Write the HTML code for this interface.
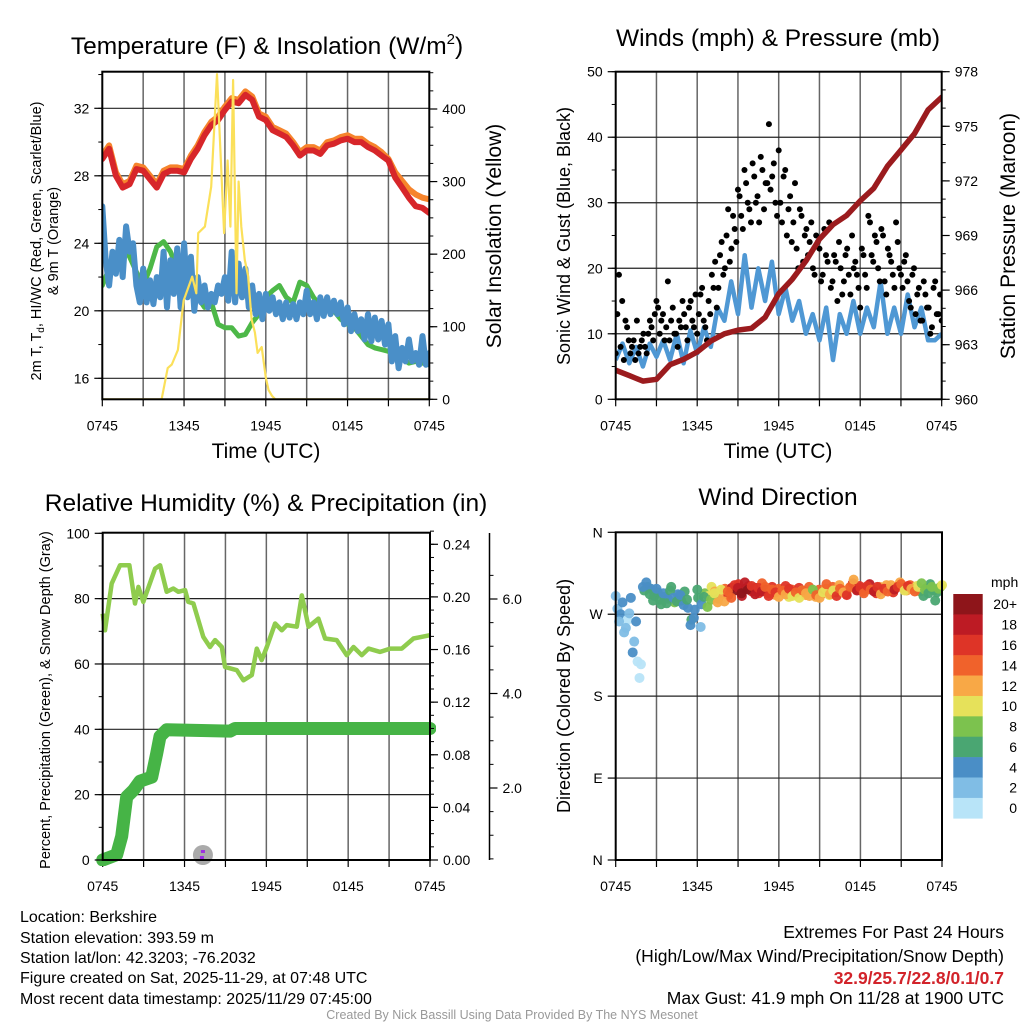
<!DOCTYPE html>
<html><head><meta charset="utf-8">
<style>
html,body{margin:0;padding:0;background:#fff;}
svg{display:block;font-family:"Liberation Sans",Arial,sans-serif;}
</style></head>
<body>
<svg id="chart" width="1024" height="1024" viewBox="0 0 1024 1024" xmlns="http://www.w3.org/2000/svg">
<rect x="0" y="0" width="1024" height="1024" fill="#fff"/>
<defs>
<clipPath id="c1"><rect x="102.3" y="71.7" width="327" height="327.6"/></clipPath>
<clipPath id="c2"><rect x="615.7" y="71.7" width="326" height="327.6"/></clipPath>
<clipPath id="c3"><rect x="96" y="526" width="340" height="340"/></clipPath>
<clipPath id="c4"><rect x="610" y="526" width="338" height="340"/></clipPath>
</defs>
<g id="layer"></g>
<text x="267" y="54" font-size="24.5" text-anchor="middle">Temperature (F) &amp; Insolation (W/m<tspan font-size="15" dy="-10">2</tspan><tspan dy="10">)</tspan></text>
<text x="778" y="46" font-size="24.5" text-anchor="middle">Winds (mph) &amp; Pressure (mb)</text>
<text x="266" y="511" font-size="24.5" text-anchor="middle">Relative Humidity (%) &amp; Precipitation (in)</text>
<text x="778" y="505" font-size="24.5" text-anchor="middle">Wind Direction</text>
<text x="266" y="458" font-size="21" text-anchor="middle">Time (UTC)</text>
<text x="778" y="458" font-size="21" text-anchor="middle">Time (UTC)</text>
<text transform="translate(41,241) rotate(-90)" font-size="14.5" text-anchor="middle">2m T, T<tspan font-size="10" dy="3">d</tspan><tspan dy="-3">, HI/WC (Red, Green, Scarlet/Blue)</tspan></text>
<text transform="translate(58,241) rotate(-90)" font-size="14.5" text-anchor="middle">&amp; 9m T (Orange)</text>
<text transform="translate(501,236) rotate(-90)" font-size="21" text-anchor="middle">Solar Insolation (Yellow)</text>
<text transform="translate(570,236) rotate(-90)" font-size="18" text-anchor="middle">Sonic Wind &amp; Gust (Blue, Black)</text>
<text transform="translate(1015,236) rotate(-90)" font-size="21" text-anchor="middle">Station Pressure (Maroon)</text>
<text transform="translate(50,700) rotate(-90)" font-size="14.5" text-anchor="middle">Percent, Precipitation (Green), &amp; Snow Depth (Gray)</text>
<text transform="translate(570,696) rotate(-90)" font-size="18" text-anchor="middle">Direction (Colored By Speed)</text>
<g font-size="16">
<text x="20" y="922">Location: Berkshire</text>
<text x="20" y="943">Station elevation: 393.59 m</text>
<text x="20" y="963">Station lat/lon: 42.3203; -76.2032</text>
<text x="20" y="983">Figure created on Sat, 2025-11-29, at 07:48 UTC</text>
<text x="20" y="1004">Most recent data timestamp: 2025/11/29 07:45:00</text>
</g>
<g font-size="17.5" text-anchor="end">
<text x="1004" y="938">Extremes For Past 24 Hours</text>
<text x="1004" y="962">(High/Low/Max Wind/Precipitation/Snow Depth)</text>
<text x="1004" y="984" fill="#d2232a" font-weight="bold">32.9/25.7/22.8/0.1/0.7</text>
<text x="1004" y="1004">Max Gust: 41.9 mph On 11/28 at 1900 UTC</text>
</g>
<text x="512" y="1019" font-size="12.5" fill="#999" text-anchor="middle">Created By Nick Bassill Using Data Provided By The NYS Mesonet</text>
</svg>
<script>
// ---------- data ----------
const timeTickLabels = ["0745","1345","1945","0145","0745"];
const timeTickHours = [0,6,12,18,24];
const tempTicks = [16,20,24,28,32];
const solarTicks = [0,100,200,300,400];
const windTicks = [0,10,20,30,40,50];
const pressTicks = [960,963,966,969,972,975,978];
const rhTicks = [0,20,40,60,80,100];
const precipTicks = [0.00,0.04,0.08,0.12,0.16,0.20,0.24];
const snowTicks = [2.0,4.0,6.0];
const dirTickLabels = ["N","E","S","W","N"];
const dirTickDegs = [0,90,180,270,360];

const temp2m = [29.0,29.6,28.0,27.3,27.5,28.4,28.3,27.8,27.3,28.1,28.3,28.3,28.2,29.0,29.6,30.4,31.0,31.3,31.9,32.4,32.3,32.8,32.5,31.5,31.3,30.7,30.5,30.3,29.8,29.2,29.5,29.5,29.3,29.8,29.9,30.1,30.2,30.0,30.0,29.7,29.5,29.2,28.9,27.9,27.3,26.7,26.2,26.1,25.8];
const temp9m = [29.2,29.8,28.2,27.5,27.7,28.6,28.5,28.0,27.5,28.3,28.5,28.5,28.4,29.2,29.8,30.6,31.2,31.5,32.1,32.6,32.5,33.0,32.7,31.7,31.5,30.9,30.7,30.5,30.0,29.4,29.7,29.7,29.5,30.0,30.1,30.3,30.4,30.2,30.2,29.9,29.7,29.4,29.0,28.2,27.7,27.2,26.9,26.7,26.6];
const dewpoint = [21.5,22.5,23.0,23.8,23.2,22.3,21.5,22.5,23.8,24.1,23.5,22.5,22.8,21.5,20.8,20.2,20.5,19.2,19.0,19.0,18.5,18.6,19.3,19.8,20.8,21.2,21.5,20.8,20.5,21.7,21.5,20.8,20.3,20.2,20.0,19.5,19.2,19.0,18.5,18.0,17.8,17.7,17.6,17.3,17.2,16.9,17.0,16.9,16.8];
const windChill = [26.2,23.0,21.5,23.5,22.2,24.2,22.0,25.0,23.5,24.0,21.5,20.5,22.5,20.5,21.8,20.4,22.0,20.8,23.5,20.2,23.0,21.0,23.7,20.2,24.0,20.8,23.2,20.0,22.0,20.5,21.5,20.2,21.0,20.5,21.5,21.0,22.0,20.6,23.5,20.5,22.8,20.8,22.5,20.2,21.5,19.8,21.0,19.5,21.0,20.0,20.8,19.8,20.5,19.5,20.5,19.6,20.4,19.5,20.5,19.8,21.2,19.8,20.5,19.5,20.8,19.7,20.8,19.8,20.6,19.8,20.5,19.2,20.2,18.8,19.8,18.8,19.5,18.3,19.8,18.2,19.6,18.3,19.4,18.0,19.2,17.0,18.5,16.6,17.8,17.0,18.3,17.0,17.5,16.8,18.5,16.8,17.5];
const solarHours = [0,4.35,4.8,5.1,5.55,5.97,6.6,6.9,7.04,7.53,7.99,8.42,8.94,9.2,9.4,9.6,9.85,10.0,10.2,10.46,10.7,10.96,11.2,11.4,11.7,12.0,12.2,12.45,12.7,12.96,13.3,13.5,13.75,14.13,24];
const solarVals = [0,0,43,48,68,136,169,146,229,238,293,448,229,329,238,440,146,300,238,192,170,110,92,64,72,30,13,5,0,0,0,0,0,0,0];

const windSpeed = [6,8.5,5.5,8,5,8.5,6.5,9,6,10,5.5,10.5,7,11,8,14,12,18,13,22,14,20,15,21,13,17,12,15,10,13,9,14,6,13,10,15,10,14,11,18,10,14,10,16,11,14,9,9,10];
const windGust = [7,19,15,12,9,8,6,7,9,8,10,11,13,14,12,9,18,12,10,8,11,13,9,15,11,10,16,12,9,13,17,14,22,19,25,21,28,24,31,26,33,29,36,30,27,35,33,42,34,30,38,27,35,29,24,33,20,28,25,22,27,19,24,18,26,21,17,22,15,20,18,23,16,20,19,14,22,17,27,21,24,18,25,16,22,19,27,20,17,22,15,19,13,17,12,16,14,11,18,13,12];
const windGust2 = [13,8,6,11,7,9,12,8,10,7,12,9,15,10,13,11,9,14,10,12,15,11,14,12,16,13,17,11,15,19,21,17,24,20,29,23,26,32,28,35,30,27,34,31,37,29,33,32,36,28,30,34,25,31,27,23,29,21,26,24,20,25,23,19,22,27,18,21,24,16,22,19,25,21,17,23,19,28,22,25,20,26,18,23,21,17,24,19,21,18,14,20,16,12,18,14,10,17,13,16];
const pressure = [961.6,961.3,961.0,961.1,961.9,962.2,962.6,963.2,963.6,963.8,963.9,964.5,965.8,966.6,967.6,968.8,969.6,970.1,970.9,971.6,972.8,973.7,974.6,975.9,976.6];

const rhHours = [0,0.17,0.66,1.27,1.96,2.37,2.62,2.98,3.84,4.21,4.69,5.18,5.55,6.04,6.28,6.65,7.38,7.87,8.24,8.73,8.97,9.83,10.32,10.93,11.30,11.66,12.03,12.64,13.13,13.50,14.23,14.60,15.09,15.82,16.31,17.16,17.90,18.39,19.00,19.49,20.34,21.08,21.93,22.79,24.0];
const rhVals = [75.4,70.3,84.6,90.2,90.2,78.5,83.6,79.0,89.2,90.2,82.1,83.1,82.1,82.6,79.0,78.5,68.3,65.2,67.3,65.2,59.1,58.1,55.0,56.6,64.7,61.2,65.2,72.4,70.3,71.9,71.4,81.0,71.4,73.9,67.8,67.3,62.7,65.2,62.7,64.7,63.7,64.7,64.7,67.8,68.8];
const precipHours = [0,0.5,1.03,1.39,1.76,2.25,2.74,3.59,3.96,4.2,4.69,9.34,9.7,24];
const precipVals = [0,0.002,0.004,0.018,0.048,0.053,0.060,0.063,0.081,0.094,0.099,0.098,0.100,0.100];
const snowHours = [7.35];
const snowVals = [0.7];

const dirDeg = [290,262,283,255,271,228,262,200,300,305,292,285,298,286,293,282,296,288,284,291,280,286,258,266,297,256,289,278,286,293,283,297,284,295,288,302,299,293,305,297,301,292,299,295,300,290,297,294,289,296,292,298,290,294,288,296,293,290,297,291,288,294,303,292,296,290,298,294,291,300,308,296,299,293,301,297,295,300,292,298,295,302,297,300,303,296,301,298,295,300,304,297,293,300,285,298,302];
const dirSpd = [3,2,5,3,2,4,5,1,4,5,7,6,5,7,4,6,7,5,6,4,5,7,4,5,6,3,7,8,9,11,12,10,13,15,14,17,19,21,18,20,17,19,16,18,15,17,14,16,13,15,12,16,10,14,11,15,12,13,9,14,12,11,15,13,10,16,14,12,17,15,13,18,16,14,17,15,19,16,13,17,15,12,18,16,14,11,17,13,15,10,8,9,7,8,6,9,10];
const dirDeg2 = [276,270,250,264,288,240,218,215,296,300,298,290,294,281,289,287,300,283,292,285,295,277,264,275,288,281,293,290,300,295,287,292,298,291,299,296,303,290,298,301,295,299,293,304,297,293,300,291,298,295,301,289,297,293,299,296,291,300,295,289,297,293,298,291,300,294,302,296,292,299,304,297,301,295,299,303,297,293,300,296,302,298,294,300,305,299,296,302,298,301,295,290,299,303,296,294,300];
const dirSpd2 = [2,4,3,1,5,2,1,1,6,7,5,4,6,7,5,4,6,8,5,6,7,4,6,5,7,5,8,10,11,12,9,13,14,16,18,20,17,19,21,18,16,20,17,15,19,14,16,12,15,13,17,11,14,12,16,10,13,15,11,12,14,16,13,11,15,17,12,14,16,13,18,15,17,14,16,18,15,17,13,16,12,14,17,15,13,16,12,14,9,11,8,7,9,6,8,7,8];

const speedBins = ["0","2","4","6","8","10","12","14","16","18","20+"];
const speedColors = ["#b8e4f8","#80bde5","#4a8ec6","#4aa672","#7cc24e","#e6e15a","#f8a846","#f0622b","#de3427","#bd1b24","#8e151a"];

// ---------- helpers ----------
const NS = "http://www.w3.org/2000/svg";
const layer = document.getElementById("layer");
function lin(d0,d1,r0,r1){return v => r0 + (v-d0)*(r1-r0)/(d1-d0);}
function mk(tag, attrs, parent){const e=document.createElementNS(NS,tag);for(const k in attrs)e.setAttribute(k,attrs[k]);(parent||layer).appendChild(e);return e;}
function hoursOf(arr){return arr.map((_,i)=>i*24/(arr.length-1));}
function midHoursOf(arr){return arr.map((_,i)=>(i+0.5)*24/arr.length);}
function pathD(hs, vs, xs, ys){return hs.map((h,i)=>(i?"L":"M")+xs(h).toFixed(1)+","+ys(vs[i]).toFixed(1)).join("");}

const P = [
 {x0:102.3,x1:429.3,y0:71.7,y1:399.3,clip:"c1"},
 {x0:615.7,x1:941.7,y0:71.7,y1:399.3,clip:"c2"},
 {x0:102.7,x1:430,y0:532.7,y1:860,clip:"c3"},
 {x0:615.7,x1:942,y0:532.3,y1:860,clip:"c4"}
];

function frameAndGrid(p, hLines, name){
  const g = mk("g",{});
  
  
  const xs = lin(0,24,p.x0,p.x1);
  for(let h=3; h<24; h+=3){
    const l = mk("line",{x1:xs(h),x2:xs(h),y1:p.y0,y2:p.y1,stroke:"#666","stroke-width":1.5},g);
    
    
  }
  hLines.forEach(y=>{
    const l = mk("line",{x1:p.x0,x2:p.x1,y1:y,y2:y,stroke:"#222","stroke-width":1.2},g);
    
    
  });
  timeTickHours.forEach((h,i)=>{
    const t = mk("text",{x:xs(h),y:p.y1+31,"font-size":14,"text-anchor":"middle"},g);
    t.textContent = timeTickLabels[i];
    
    
  });
  for(let h=0; h<=24; h+=3){
    mk("line",{x1:xs(h),x2:xs(h),y1:p.y1,y2:p.y1+7,stroke:"#000","stroke-width":1.2},g);
  }
  return xs;
}
function frame(p,name){
  const r = mk("rect",{x:p.x0,y:p.y0,width:p.x1-p.x0,height:p.y1-p.y0,fill:"none",stroke:"#000","stroke-width":2});
  
  
}
function yAxis(ticks, labels, scale, x, side, minorStep, lo, hi, name, fmt){
  const g = mk("g",{});
  
  
  const d = side==="left" ? -1 : 1;
  ticks.forEach((v,i)=>{
    const y = scale(v);
    mk("line",{x1:x,x2:x+d*8,y1:y,y2:y,stroke:"#000","stroke-width":1.2},g);
    const t = mk("text",{x:x+d*13,y:y+5,"font-size":14,"text-anchor":side==="left"?"end":"start"},g);
    t.textContent = labels ? labels[i] : (fmt?fmt(v):v);
    
    
  });
  if(minorStep){
    for(let v=lo; v<=hi+1e-9; v+=minorStep){
      const y=scale(v);
      mk("line",{x1:x,x2:x+d*4,y1:y,y2:y,stroke:"#000","stroke-width":1},g);
    }
  }
}

// ---------- Panel 1: temperature ----------
(function(){
  const p=P[0];
  const ty = lin(16,32,378.3,108.3), sy = lin(0,400,399.3,109);
  const xs = frameAndGrid(p, tempTicks.map(ty), "temperature");
  const g = mk("g",{"clip-path":"url(#c1)"});
  
  
  const series = [
    [dewpoint,"#4db848",5,"dewpoint-line"],
    [windChill,"#4a8fc8",6,"wind-chill-line"],
    [temp9m,"#f6842c",6,"temp-9m-line"],
    [temp2m,"#d7262a",6,"temp-2m-line"]
  ];
  series.forEach(s=>{
    const e = mk("path",{d:pathD(hoursOf(s[0]),s[0],xs,ty),fill:"none",stroke:s[1],"stroke-width":s[2],"stroke-linejoin":"round","stroke-linecap":"round"},g);
    
    
  });
  const sol = mk("path",{d:pathD(solarHours,solarVals,xs,sy),fill:"none",stroke:"#fbe05a","stroke-width":2.2,"stroke-linejoin":"round"},g);
  
  
  frame(p,"temperature");
  yAxis(tempTicks,null,ty,p.x0,"left",2,16,34,"temperature-y-axis");
  yAxis(solarTicks,null,sy,p.x1,"right",25,0,450,"solar-y-axis");
})();

// ---------- Panel 2: winds ----------
(function(){
  const p=P[1];
  const wy = lin(0,50,399.3,71.7), py = lin(960,978,399.3,71.7);
  const xs = frameAndGrid(p, windTicks.slice(1,5).map(wy), "winds");
  const g = mk("g",{"clip-path":"url(#c2)"});
  
  
  const ws = mk("path",{d:pathD(hoursOf(windSpeed),windSpeed,xs,wy),fill:"none",stroke:"#4f98d4","stroke-width":4.5,"stroke-linejoin":"round"},g);
  
  
  const gh = hoursOf(windGust);
  windGust.forEach((v,i)=>{
    const c = mk("circle",{cx:xs(gh[i]),cy:wy(v),r:3,fill:"#000"},g);
    
    
  });
  const gh2 = midHoursOf(windGust2);
  windGust2.forEach((v,i)=>{
    const c = mk("circle",{cx:xs(gh2[i]),cy:wy(v),r:3,fill:"#000"},g);
    
    
  });
  const pr = mk("path",{d:pathD(hoursOf(pressure),pressure,xs,py),fill:"none",stroke:"#9b1b1e","stroke-width":5.5,"stroke-linejoin":"round","stroke-linecap":"round"},g);
  
  
  frame(p,"winds");
  yAxis(windTicks,null,wy,p.x0,"left",5,0,50,"wind-y-axis");
  yAxis(pressTicks,null,py,p.x1,"right",1,960,978,"pressure-y-axis");
})();

// ---------- Panel 3: humidity ----------
(function(){
  const p=P[2];
  const ry = lin(0,100,860,533.3), qy = lin(0,0.24,860,544.3), sy = lin(2,6,788,599);
  const xs = frameAndGrid(p, rhTicks.slice(1,5).map(ry), "humidity");
  const g = mk("g",{"clip-path":"url(#c3)"});
  
  
  snowHours.forEach((h,i)=>{
    const c = mk("circle",{cx:xs(h),cy:855,r:10,fill:"#aaa"},g);
    
    
    mk("rect",{x:xs(h)-2,y:850,width:4,height:3,fill:"#9b30e0"},g);
    mk("rect",{x:xs(h)-3,y:856,width:4,height:3,fill:"#9b30e0"},g);
  });
  const rh = mk("path",{d:pathD(rhHours,rhVals,xs,ry),fill:"none",stroke:"#8fcc4e","stroke-width":4.5,"stroke-linejoin":"round"},g);
  
  
  const pc = mk("path",{d:pathD(precipHours,precipVals,xs,qy),fill:"none",stroke:"#46b446","stroke-width":13,"stroke-linejoin":"round","stroke-linecap":"round"},g);
  
  
  frame(p,"humidity");
  yAxis(rhTicks,null,ry,p.x0,"left",10,0,100,"humidity-y-axis");
  yAxis(precipTicks,null,qy,p.x1,"right",0.01,0,0.25,"precipitation-y-axis",v=>v.toFixed(2));
  const ax = mk("line",{x1:489.5,x2:489.5,y1:533,y2:860,stroke:"#000","stroke-width":1.5});
  
  
  yAxis(snowTicks,null,sy,489.5,"right",0.5,0.5,6.5,"snow-depth-y-axis",v=>v.toFixed(1));
})();

// ---------- Panel 4: wind direction ----------
(function(){
  const p=P[3];
  const dy = lin(0,360,860,532.3);
  const xs = frameAndGrid(p, [90,180,270].map(dy), "direction");
  const g = mk("g",{"clip-path":"url(#c4)"});
  
  
  function dots(degs, spds, hs){
    degs.forEach((v,i)=>{
      const bin = Math.min(10, Math.max(0, Math.floor(spds[i]/2)));
      const c = mk("circle",{cx:xs(hs[i]),cy:dy(v),r:5,fill:speedColors[bin],"fill-opacity":0.95},g);
      
      
    });
  }
  dots(dirDeg2, dirSpd2, midHoursOf(dirDeg2));
  dots(dirDeg, dirSpd, hoursOf(dirDeg));
  frame(p,"direction");
  yAxis(dirTickDegs,dirTickLabels,dy,p.x0,"left",0,0,0,"direction-y-axis");
  const cb = mk("g",{});
  
  
  const t0 = mk("text",{x:991,y:587,"font-size":14},cb);
  t0.textContent="mph";
  const bh = 224.3/11;
  speedBins.forEach((lab,i)=>{
    const k = 10-i;
    const y = 594 + i*bh;
    const r = mk("rect",{x:953.3,y:y,width:29.4,height:bh+0.3,fill:speedColors[k]},cb);
    
    
    const t = mk("text",{x:1017,y:y+bh/2+5,"font-size":14,"text-anchor":"end"},cb);
    t.textContent = speedBins[k];
    
    
  });
})();
</script>
</body></html>
